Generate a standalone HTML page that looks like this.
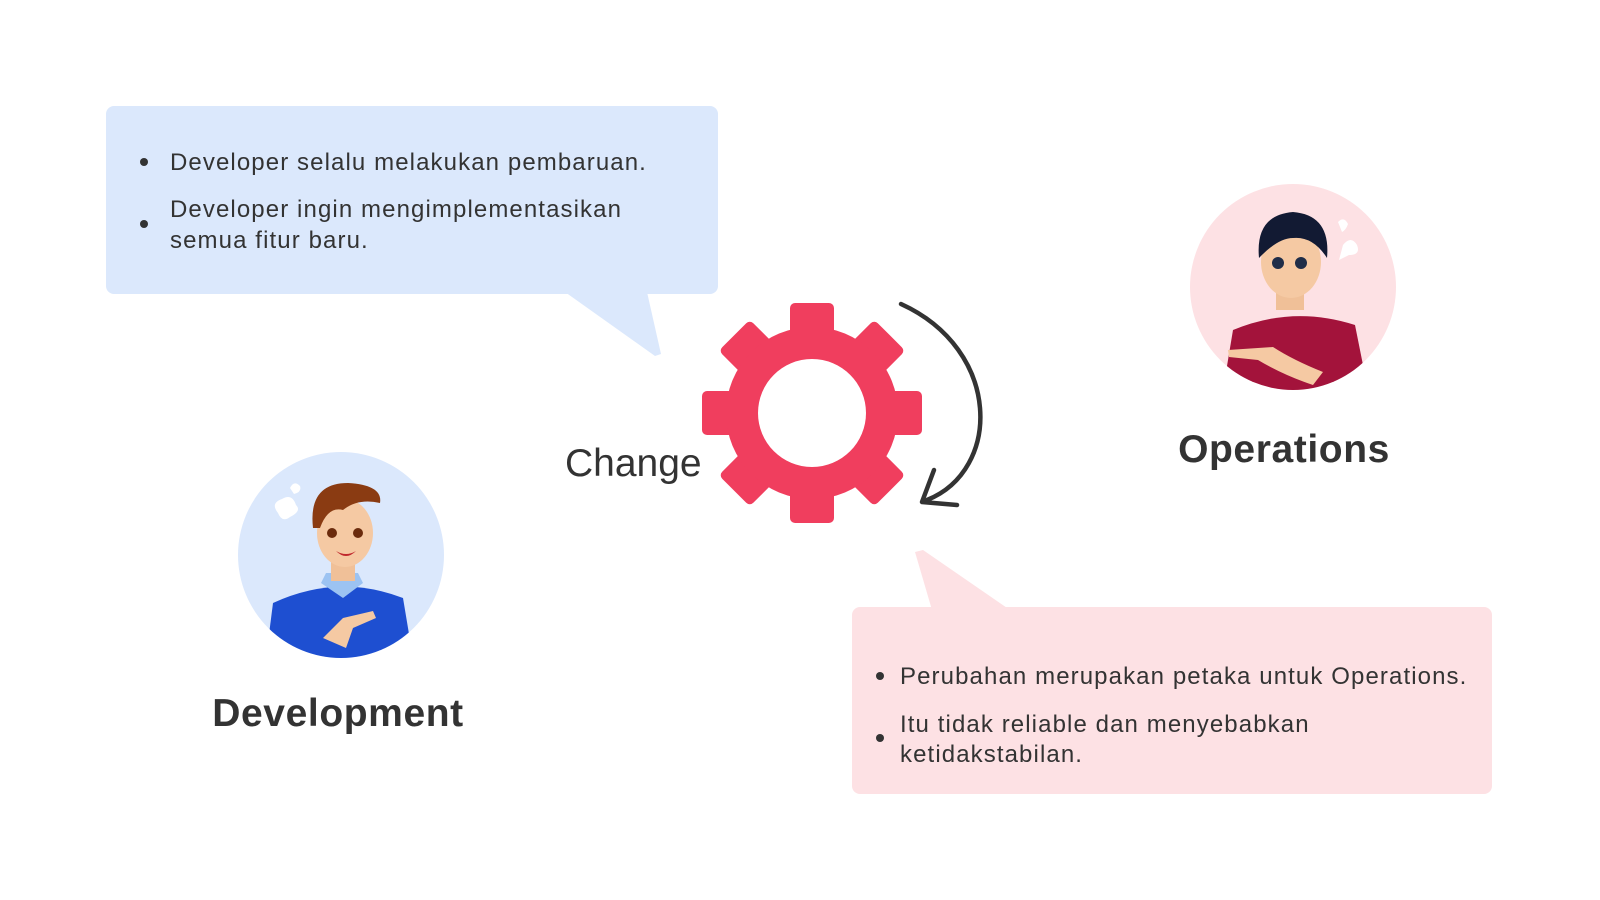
<!DOCTYPE html>
<html><head><meta charset="utf-8"><style>
html,body{margin:0;padding:0;background:#fff;width:1600px;height:900px;overflow:hidden}
svg{display:block}
text{font-family:"Liberation Sans",sans-serif;fill:#333}
.b{letter-spacing:1.1px}
</style></head><body>
<svg width="1600" height="900" viewBox="0 0 1600 900">
<!-- blue bubble -->
<rect x="106" y="106" width="612" height="188" rx="8" fill="#dbe8fc"/>
<polygon points="565,292 647,292 661,354 655,356" fill="#dbe8fc"/>
<circle cx="144" cy="162" r="4" fill="#333"/>
<circle cx="144" cy="224" r="4" fill="#333"/>
<text class="b" x="170" y="170" font-size="24">Developer selalu melakukan pembaruan.</text>
<text class="b" x="170" y="217" font-size="24">Developer ingin mengimplementasikan</text>
<text class="b" x="170" y="248" font-size="24">semua fitur baru.</text>
<!-- pink bubble -->
<rect x="852" y="607" width="640" height="187" rx="8" fill="#fde1e4"/>
<polygon points="915,552 923,550 1010,610 932,610" fill="#fde1e4"/>
<circle cx="880" cy="676" r="4" fill="#333"/>
<circle cx="880" cy="738" r="4" fill="#333"/>
<text class="b" x="900" y="684" font-size="24">Perubahan merupakan petaka untuk Operations.</text>
<text class="b" x="900" y="732" font-size="24">Itu tidak reliable dan menyebabkan</text>
<text class="b" x="900" y="762" font-size="24">ketidakstabilan.</text>
<!-- Change + gear -->
<text x="565" y="476" font-size="39">Change</text>
<g transform="translate(812,413)" fill="#f03e5e">
  <g id="t"><rect x="-22" y="-110" width="44" height="50" rx="5"/></g>
  <use href="#t" transform="rotate(45)"/><use href="#t" transform="rotate(90)"/><use href="#t" transform="rotate(135)"/>
  <use href="#t" transform="rotate(180)"/><use href="#t" transform="rotate(225)"/><use href="#t" transform="rotate(270)"/><use href="#t" transform="rotate(315)"/>
  <circle r="86"/>
  <circle r="54" fill="#fff"/>
</g>
<path d="M901,304 C1002,350 1002,470 927,500" fill="none" stroke="#333" stroke-width="4.5" stroke-linecap="round"/>
<polyline points="934,470 922,502 957,505" fill="none" stroke="#333" stroke-width="4.5" stroke-linecap="round" stroke-linejoin="round"/>
<!-- Operations person -->
<defs><clipPath id="c1"><circle cx="1293" cy="287" r="103"/></clipPath><clipPath id="c2"><circle cx="341" cy="555" r="103"/></clipPath></defs>
<circle cx="1293" cy="287" r="103" fill="#fde1e4"/>
<g clip-path="url(#c1)">
  <path d="M1223,390 L1233,330 Q1293,305 1355,325 L1368,390 Z" fill="#a3133b"/>
  <rect x="1276" y="280" width="28" height="30" fill="#f0c098"/>
  <ellipse cx="1291" cy="262" rx="30" ry="36" fill="#f5c9a3"/>
  <path d="M1259,258 Q1255,215 1293,212 Q1331,215 1327,258 Q1313,236 1293,238 Q1278,238 1259,258Z" fill="#121a33"/>
  <circle cx="1278" cy="263" r="6" fill="#1f2d48"/><circle cx="1301" cy="263" r="6" fill="#1f2d48"/>
  <path d="M1228,350 L1273,347 Q1293,360 1323,372 L1313,385 Q1283,375 1258,360 L1229,357Z" fill="#f5c9a3"/>
</g>
<path d="M1338,222 q6,-6 10,2 q-2,6 -6,8 z M1343,245 q8,-10 14,0 q4,10 -8,10 l-10,5z" fill="#fff"/>
<text x="1284" y="462" font-size="39" font-weight="bold" text-anchor="middle" letter-spacing="0.6">Operations</text>
<!-- Development person -->
<circle cx="341" cy="555" r="103" fill="#dbe8fc"/>
<g clip-path="url(#c2)">
  <path d="M266,658 L273,603 Q338,573 403,598 L413,658 Z" fill="#1e4fd1"/>
  <path d="M321,583 L343,598 L363,583 L358,573 L326,573Z" fill="#9cc3f2"/>
  <rect x="331" y="553" width="24" height="28" fill="#f0c098"/>
  <ellipse cx="345" cy="533" rx="28" ry="34" fill="#f5c9a3"/>
  <path d="M313,528 Q308,483 348,483 Q383,485 380,503 Q358,498 343,510 Q328,506 320,528Z" fill="#8a3b12"/>
  <circle cx="332" cy="533" r="5" fill="#6b2b0d"/><circle cx="358" cy="533" r="5" fill="#6b2b0d"/>
  <path d="M336,551 q10,6 20,0 q-10,10 -20,0z" fill="#c0282d"/>
  <path d="M323,638 L343,618 L373,611 L376,618 L353,628 L346,648Z" fill="#f5c9a3"/>
</g>
<path d="M278,513 q-8,-10 4,-14 q10,-6 14,6 q6,6 -6,12 q-8,6 -12,-4z M290,488 q4,-8 10,-2 q2,6 -6,8z" fill="#fff"/>
<text x="338" y="726" font-size="39" font-weight="bold" text-anchor="middle" letter-spacing="0.6">Development</text>
</svg>
</body></html>
